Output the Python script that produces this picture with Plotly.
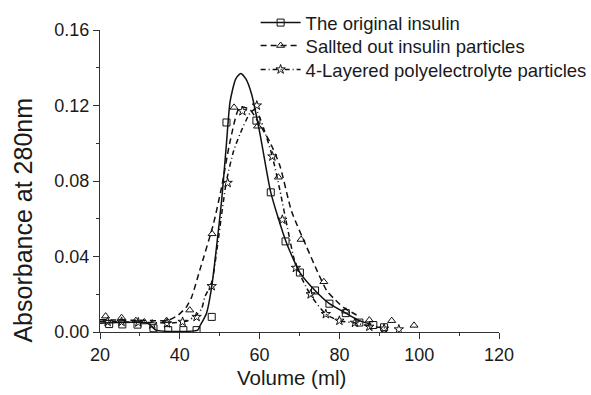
import plotly.graph_objects as go

# ---- measured data (markers) ----
orig_x = [22.3, 25.6, 29.4, 33.4, 37.1, 40.9, 44.2, 48.0, 51.7, 59.2, 62.8, 66.5, 70.1, 73.9, 77.5, 81.6, 85.0, 88.5, 91.2]
orig_y = [0.0042, 0.0040, 0.0039, 0.0020, 0.0010, 0.0010, 0.0010, 0.0080, 0.111, 0.112, 0.074, 0.048, 0.0315, 0.022, 0.015, 0.010, 0.005, 0.0037, 0.0025]

salt_x = [21.4, 25.4, 29.0, 31.1, 36.7, 42.5, 48.1, 53.6, 59.5, 64.7, 70.4, 76.1, 81.6, 87.5, 93.1, 98.7]
salt_y = [0.0084, 0.0076, 0.0060, 0.0053, 0.0060, 0.0116, 0.052, 0.119, 0.109, 0.082, 0.049, 0.0266, 0.011, 0.0063, 0.0060, 0.0035]

layer_x = [21.9, 25.4, 29.6, 33.1, 36.8, 40.7, 44.2, 48.0, 52.0, 55.7, 59.3, 63.2, 65.7, 69.1, 72.8, 76.6, 80.0, 83.9, 87.5, 91.2, 94.9]
layer_y = [0.0054, 0.0054, 0.0051, 0.0040, 0.0046, 0.0054, 0.0080, 0.0243, 0.079, 0.117, 0.120, 0.093, 0.0595, 0.034, 0.020, 0.0095, 0.0060, 0.0049, 0.0028, 0.0018, 0.0014]

# ---- fitted curves ----
orig_fx = [20, 32, 34, 44.5, 45, 46.7, 48, 49.2, 50.5, 51.7, 52.6, 54, 55.3, 56.6, 58, 60.1, 62.8, 66.6, 70.1, 73.9, 77.5, 81.6, 85, 88]
orig_fy = [0.0046, 0.0046, 0.0010, 0.0010, 0.003, 0.010, 0.024, 0.045, 0.070, 0.100, 0.122, 0.134, 0.137, 0.134, 0.126, 0.105, 0.074, 0.048, 0.0315, 0.022, 0.015, 0.010, 0.006, 0.004]

salt_fx = [20, 30, 37, 39.6, 41.7, 43, 45, 48.4, 50.5, 52.5, 55, 57.5, 60, 62.5, 65.1, 68, 71.8, 74.5, 76.8, 78.5, 81, 84.3]
salt_fy = [0.0065, 0.0062, 0.0062, 0.009, 0.0134, 0.0187, 0.0327, 0.057, 0.077, 0.100, 0.119, 0.118, 0.110, 0.101, 0.088, 0.064, 0.045, 0.032, 0.022, 0.018, 0.013, 0.009]

layer_fx = [20, 30, 38, 42, 44.2, 45.5, 46.3, 48, 49.2, 51.7, 53.5, 55.1, 57.6, 59, 61, 63.2, 65.1, 67, 69, 72.8, 76.7, 80, 84, 88, 92]
layer_fy = [0.0055, 0.0052, 0.0048, 0.0060, 0.0090, 0.0125, 0.0187, 0.026, 0.042, 0.080, 0.096, 0.105, 0.116, 0.118, 0.108, 0.093, 0.075, 0.055, 0.036, 0.0195, 0.0093, 0.006, 0.0048, 0.003, 0.002]

names = ["The original insulin", "Sallted out insulin particles", "4-Layered polyelectrolyte particles"]

xticks = [20, 40, 60, 80, 100, 120]
yticks = [0.00, 0.04, 0.08, 0.12, 0.16]

BLK = "#111111"
TXT = "#1a1a1a"
fig = go.Figure()

series = [
    (orig_fx, orig_fy, orig_x, orig_y, "solid", "square-open", names[0], "legend"),
    (salt_fx, salt_fy, salt_x, salt_y, "6px,4px", "triangle-up-open", names[1], "legend2"),
    (layer_fx, layer_fy, layer_x, layer_y, "5px,3px,1px,3px", "star-open", names[2], "legend3"),
]

for fx, fy, mx, my, dash, sym, nm, lg in series:
    fig.add_trace(go.Scatter(x=fx, y=fy, mode="lines", line=dict(color=BLK, width=1.5, dash=dash, shape="spline", smoothing=0.6),
                             showlegend=False, hoverinfo="skip"))
    fig.add_trace(go.Scatter(x=mx, y=my, mode="markers", marker=dict(symbol=sym, size=7, color=BLK, line=dict(width=1, color=BLK)),
                             showlegend=False))
    fig.add_trace(go.Scatter(x=[None], y=[None], mode="lines+markers", name=nm, legend=lg,
                             line=dict(color=BLK, width=1.5, dash=dash),
                             marker=dict(symbol=sym, size=7, color=BLK, line=dict(width=1, color=BLK))))

axis_common = dict(showline=True, linecolor="#333333", linewidth=1, ticks="outside", ticklen=6, tickcolor="#333333",
                   showgrid=False, zeroline=False, mirror=False, automargin=False,
                   tickfont=dict(size=18, color=TXT))

fig.update_xaxes(range=[20, 120], tickvals=xticks, ticktext=[str(v) for v in xticks],
                 minor=dict(ticks="outside", ticklen=3, dtick=10, tick0=20, tickcolor="#333333"), **axis_common)
fig.update_yaxes(range=[0, 0.16], tickvals=yticks, ticktext=[f"{v:.2f}" for v in yticks],
                 minor=dict(ticks="outside", ticklen=3, dtick=0.02, tick0=0, tickcolor="#333333"), **axis_common)

fig.add_annotation(text="Volume (ml)", xref="paper", yref="paper", x=0.481, y=-0.152,
                   xanchor="center", yanchor="middle", showarrow=False, font=dict(size=20.5, color=TXT))
fig.add_annotation(text="Absorbance at 280nm", xref="paper", yref="paper", x=-0.194, y=0.371, textangle=-90,
                   xanchor="center", yanchor="middle", showarrow=False, font=dict(size=25, color=TXT))

leg_common = dict(x=0.39, xanchor="left", yanchor="middle", bgcolor="rgba(0,0,0,0)",
                  font=dict(size=18.5, color=TXT), itemwidth=40)

fig.update_layout(
    width=591, height=395,
    margin=dict(l=100, r=92, t=30, b=63, autoexpand=False),
    paper_bgcolor="white", plot_bgcolor="white",
    font=dict(family="Arial, Liberation Sans, sans-serif", color=TXT),
    legend=dict(y=1.023, **leg_common),
    legend2=dict(y=0.947, **leg_common),
    legend3=dict(y=0.868, **leg_common),
)

fig.write_html("out.html")
